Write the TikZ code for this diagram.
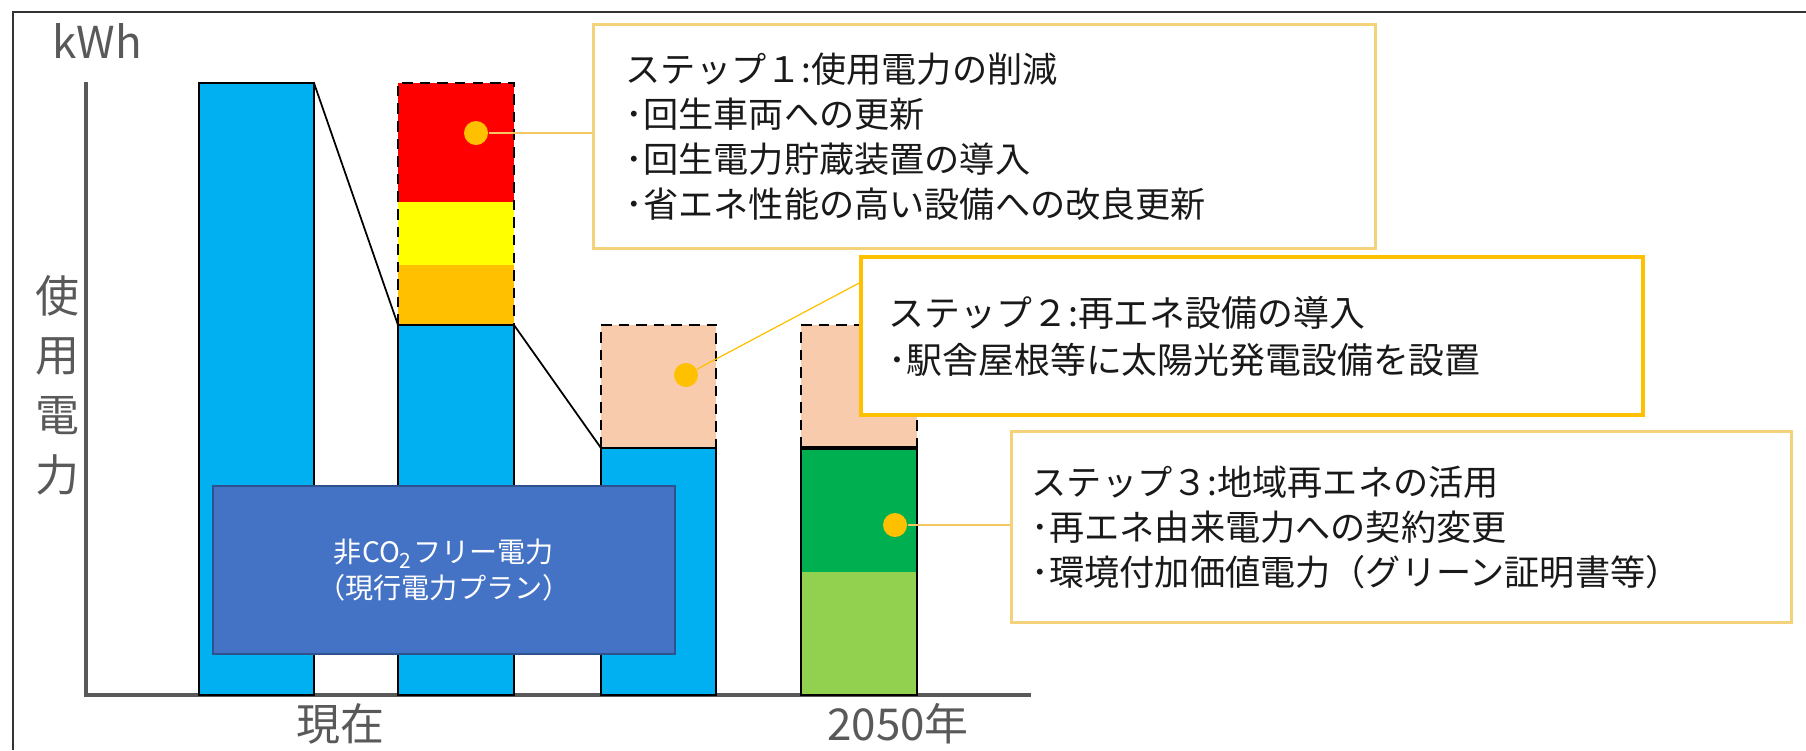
\documentclass[tikz,border=0pt]{standalone}
\usepackage{fontspec}
\setmainfont{Noto Sans CJK JP}
\usepackage{tikz}
\usetikzlibrary{calc}
\definecolor{barblue}{HTML}{00B0F0}
\definecolor{cutred}{HTML}{FF0000}
\definecolor{cutyellow}{HTML}{FFFF00}
\definecolor{cutorange}{HTML}{FFC000}
\definecolor{solarpeach}{HTML}{F8CBAD}
\definecolor{localgreen}{HTML}{00B050}
\definecolor{certgreen}{HTML}{92D050}
\definecolor{planblue}{HTML}{4472C4}
\definecolor{planedge}{HTML}{2F528F}
\definecolor{axisgray}{HTML}{595959}
\definecolor{paleframe}{HTML}{F4D27A}
\definecolor{leadorange}{HTML}{F6C663}
\tikzset{
	stepbox/.style={draw=paleframe, line width=0.85pt, fill=white, align=left, font=\fontsize{10}{12.8}\selectfont, text=black!90},
	stepdot/.style={circle, fill=cutorange, inner sep=0pt, minimum size=0.24cm},
	lead/.style={draw=leadorange, line width=0.5pt},
	axislabel/.style={text=axisgray, font=\fontsize{12.5}{17}\selectfont, inner sep=0pt},
}

\begin{document}
\begin{tikzpicture}[x=0.01cm, y=-0.01cm]
		%%%%% START %%%%%
		\useasboundingbox (0, 0) rectangle (1806, 750);
		
		\draw[line width=0.8pt, color=black!80] (13, 750) -- (13, 12) -- (1806, 12);
		
		\draw[line width=1.1pt, color=axisgray] (86, 82) -- (86, 695) -- (1031, 695);
		\node[axislabel] (unit) at (97, 41) {kWh};
		\node[axislabel, align=center] (ylabel) at (57, 385) {使\\用\\電\\力};
		\node[axislabel] (now) at (340, 724) {現在};
		\node[axislabel] (goal) at (898, 724) {2050年};
		
		% today
		\draw[fill=barblue, line width=0.6pt] (199, 83) rectangle (314, 695);
		
		% step 1
		\fill[cutred] (398, 83) rectangle (514, 202);
		\fill[cutyellow] (398, 202) rectangle (514, 265);
		\fill[cutorange] (398, 265) rectangle (514, 325);
		\draw[densely dashed, line width=0.6pt] (398, 325) -- (398, 83) -- (514, 83) -- (514, 325);
		\draw[fill=barblue, line width=0.6pt] (398, 325) rectangle (514, 695);
		\draw[line width=0.5pt] (314, 83) -- (398, 325);
		
		% step 2
		\fill[solarpeach] (601, 325) rectangle (716, 448);
		\draw[densely dashed, line width=0.6pt] (601, 448) -- (601, 325) -- (716, 325) -- (716, 448);
		\draw[fill=barblue, line width=0.6pt] (601, 448) rectangle (716, 695);
		\draw[line width=0.5pt] (514, 325) -- (601, 448);
		
		% step 3
		\fill[solarpeach] (801, 325) rectangle (917, 448);
		\draw[densely dashed, line width=0.6pt] (801, 448) -- (801, 325) -- (917, 325) -- (917, 448);
		\fill[localgreen] (801, 448) rectangle (917, 572);
		\fill[certgreen] (801, 572) rectangle (917, 695);
		\draw[line width=0.6pt] (801, 448) rectangle (917, 695);
		\draw[line width=1.2pt] (801, 448) -- (917, 448);
		
		\node[draw=planedge, fill=planblue, line width=0.6pt, text=white, align=center, minimum width=4.62cm, minimum height=1.68cm, font=\fontsize{8}{10.2}\selectfont] (plan) at (444, 570) {非CO\textsubscript{2}フリー電力\\（現行電力プラン）};
		
		\node[stepbox, text width=7.17cm, inner xsep=0.32cm, minimum height=2.23cm] (step1) at (984.5, 136.5) {ステップ１:使用電力の削減\\･回生車両への更新\\･回生電力貯蔵装置の導入\\･省エネ性能の高い設備への改良更新};
		\node[stepbox, draw=cutorange, line width=1pt, text width=7.26cm, inner xsep=0.28cm, minimum height=1.58cm, font=\fontsize{10.2}{13.4}\selectfont] (step2) at (1252, 336) {ステップ２:再エネ設備の導入\\･駅舎屋根等に太陽光発電設備を設置};
		\node[stepbox, text width=7.39cm, inner xsep=0.2cm, minimum height=1.9cm] (step3) at (1401.5, 527) {ステップ３:地域再エネの活用\\ ･再エネ由来電力への契約変更\\ ･環境付加価値電力（グリーン証明書等）};
		
		\node[stepdot] (dot1) at (476, 133) {};
		\node[stepdot] (dot2) at (686, 375) {};
		\node[stepdot] (dot3) at (895, 525) {};
		\coordinate (s2in) at (861, 282);
		
		\draw[lead] (dot1) -- (dot1 -| step1.west);
		\draw[lead, draw=cutorange, line width=0.35pt] (dot2) -- (s2in);
		\draw[lead] (dot3) -- (dot3 -| step3.west);
		%%%%% END %%%%%
	\end{tikzpicture}
\end{document}
